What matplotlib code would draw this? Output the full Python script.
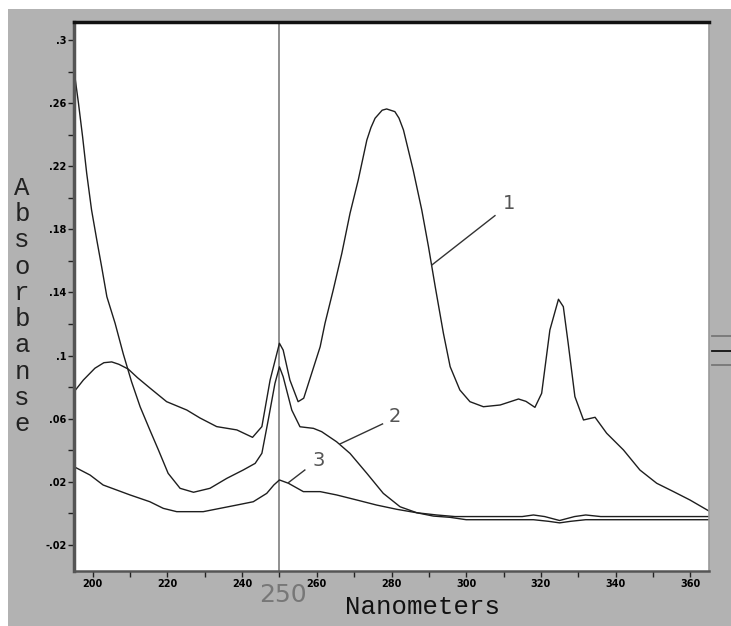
import matplotlib
matplotlib.use('Agg')
import matplotlib.pyplot as plt
from matplotlib.patches import Rectangle
import matplotlib.transforms as mtransforms

# Spectra (wavelength in nm, absorbance)
x1 = [195, 197.5, 200.6, 203, 205.1, 207, 209.5, 212, 215.3, 219.8, 225.2, 228.7, 233.2,
      238.6, 242.8, 245.3, 247.5, 250, 251, 252.8, 255, 256.5, 258.2, 260.9, 262.2, 264.4,
      266.7, 268.9, 271.1, 273.4, 274.5, 275.6, 277.5, 278.7, 280.9, 282, 283.2, 285.8,
      288.1, 289.9, 291.7, 293.9, 295.7, 298.3, 301, 304.6, 309.1, 314, 316, 318.4, 320.2,
      322.4, 324.7, 326, 327.3, 329.1, 331.4, 334.5, 337.6, 342.1, 346.5, 351, 355.5,
      359.9, 365]
y1 = [0.077, 0.0845, 0.092, 0.0955, 0.096, 0.0945, 0.0915, 0.086, 0.0795, 0.0708, 0.0655,
      0.0605, 0.055, 0.0529, 0.0482, 0.055, 0.0845, 0.1078, 0.1035, 0.0845, 0.0708, 0.073,
      0.0856, 0.1056, 0.1205, 0.1416, 0.1648, 0.1902, 0.2113, 0.2366, 0.2445, 0.2504,
      0.2555, 0.2563, 0.2546, 0.2505, 0.243, 0.2176, 0.1923, 0.169, 0.1437, 0.1141, 0.093,
      0.0782, 0.0708, 0.0676, 0.0687, 0.0725, 0.071, 0.0672, 0.0761, 0.1162, 0.1357, 0.131,
      0.1078, 0.074, 0.0592, 0.0609, 0.0508, 0.0402, 0.0275, 0.0191, 0.0138, 0.0085, 0.0015]

x2 = [195, 196.2, 197.3, 198.4, 199.7, 201.1, 202.4, 203.8, 206, 208.2, 210.4, 212.7,
      215.3, 217.6, 220.2, 223.4, 227, 231.4, 235.9, 240.3, 243.5, 245.3, 247, 248.8, 250,
      251, 253.3, 255.5, 259.1, 261.3, 265.3, 268.9, 273.4, 277.8, 282.3, 286.8, 291.2,
      295.7, 300, 318, 322, 325, 328, 332, 365]
y2 = [0.281, 0.2599, 0.2387, 0.2155, 0.1923, 0.1733, 0.1563, 0.1373, 0.1205, 0.101,
      0.0835, 0.0676, 0.0529, 0.0402, 0.0254, 0.0159, 0.0134, 0.0159, 0.0222, 0.0275,
      0.0317, 0.0381, 0.0592, 0.0824, 0.0929, 0.0866, 0.0655, 0.0549, 0.0539, 0.0518,
      0.0454, 0.038, 0.0254, 0.0127, 0.0042, 0.0004, -0.0017, -0.0025, -0.004, -0.004,
      -0.005, -0.006, -0.005, -0.004, -0.004]

x3 = [195, 199.3, 202.8, 210, 215.3, 218.9, 222.5, 229.6, 234.1, 238.6, 243, 246.6, 248.5,
      250, 252.4, 256.4, 260.9, 265.3, 270.7, 276, 281.4, 286.8, 292.1, 297, 315, 318, 321,
      325, 329, 332, 336, 365]
y3 = [0.0296, 0.0243, 0.018, 0.0117, 0.0074, 0.0032, 0.0011, 0.0011, 0.0032, 0.0053, 0.0074,
      0.0127, 0.018, 0.0212, 0.0191, 0.0138, 0.0138, 0.0117, 0.0085, 0.0053, 0.0026, 0.0004,
      -0.001, -0.002, -0.002, -0.001, -0.002, -0.0045, -0.002, -0.001, -0.002, -0.002]

# curve labels: text position and leader line (from curve, to label)
labels = ['1', '2', '3']
label_pos = [(311.5, 0.1965), (281.0, 0.0613), (260.4, 0.0338)]
leader_start = [(290.8, 0.1574), (266.2, 0.044), (252.4, 0.0195)]
leader_end = [(307.7, 0.1887), (277.6, 0.0567), (256.8, 0.0275)]

cursor_x = 250
marker_levels = [0.1126, 0.1031, 0.0942]
marker_colors = ['#777777', '#111111', '#777777']

yticks = [0.3, 0.26, 0.22, 0.18, 0.14, 0.1, 0.06, 0.02, -0.02]
ytick_labels = ['.3', '.26', '.22', '.18', '.14', '.1', '.06', '.02', '-.02']
yminor = [0.28, 0.24, 0.20, 0.16, 0.12, 0.08, 0.04, 0.0]
xticks = [200, 220, 240, 260, 280, 300, 320, 340, 360]
xminor = [210, 230, 250, 270, 290, 310, 330, 350]

bg = '#b2b2b2'
fig = plt.figure(figsize=(7.31, 6.26), dpi=100, facecolor='white')
fig.patches.append(Rectangle((8 / 731, 0), 1, 1 - 9 / 626, transform=fig.transFigure,
                             facecolor=bg, edgecolor='none', zorder=-5))

ax = fig.add_axes([74 / 731, 55 / 626, 635 / 731, 549 / 626])
ax.set_facecolor('white')
ax.set_xlim(195, 365)
ax.set_ylim(-0.0365, 0.3114)

for xs, ys in [(x1, y1), (x2, y2), (x3, y3)]:
    ax.plot(xs, ys, color='#1e1e1e', lw=1.0)

ax.axvline(cursor_x, color='#888888', lw=1.3, zorder=1)

for lab, pos, a, b in zip(labels, label_pos, leader_start, leader_end):
    ax.plot([a[0], b[0]], [a[1], b[1]], color='#333333', lw=1.0)
    ax.text(pos[0], pos[1], lab, fontsize=14, color='#555555', ha='center', va='center',
            family='DejaVu Sans')

trans = mtransforms.blended_transform_factory(ax.transAxes, ax.transData)
for lvl, c in zip(marker_levels, marker_colors):
    ax.plot([1.004, 1.04], [lvl, lvl], color=c, lw=1.3, transform=trans, clip_on=False)

ax.set_yticks(yticks)
ax.set_yticklabels(ytick_labels)
ax.set_yticks(yminor, minor=True)
ax.set_xticks(xticks)
ax.set_xticks(xminor, minor=True)
ax.tick_params(which='both', direction='out', length=4, width=1, color='#222222', pad=1.5)
for t in ax.get_xticklabels() + ax.get_yticklabels():
    t.set_fontsize(7)
    t.set_fontweight('bold')
    t.set_family('DejaVu Sans')

ax.spines['top'].set_linewidth(2.5)
ax.spines['top'].set_color('#111111')
ax.spines['left'].set_linewidth(2.5)
ax.spines['left'].set_color('#555555')
ax.spines['bottom'].set_linewidth(1.8)
ax.spines['bottom'].set_color('#555555')
ax.spines['right'].set_linewidth(1.2)
ax.spines['right'].set_color('#999999')

fig.text(283 / 731, 1 - 595 / 626, str(cursor_x), fontsize=18, color='#777777',
         ha='center', va='center', family='DejaVu Sans')
fig.text(423 / 731, 1 - 607 / 626, 'Nanometers', fontsize=18.5, color='#111111',
         ha='center', va='center', family='Liberation Mono')
fig.text(22 / 731, 1 - 306 / 626, '\n'.join('Absorbanse'), fontsize=18.5, color='#222222',
         ha='center', va='center', family='Liberation Mono', linespacing=1.12)

fig.savefig('out.png', dpi=100, facecolor=fig.get_facecolor())
